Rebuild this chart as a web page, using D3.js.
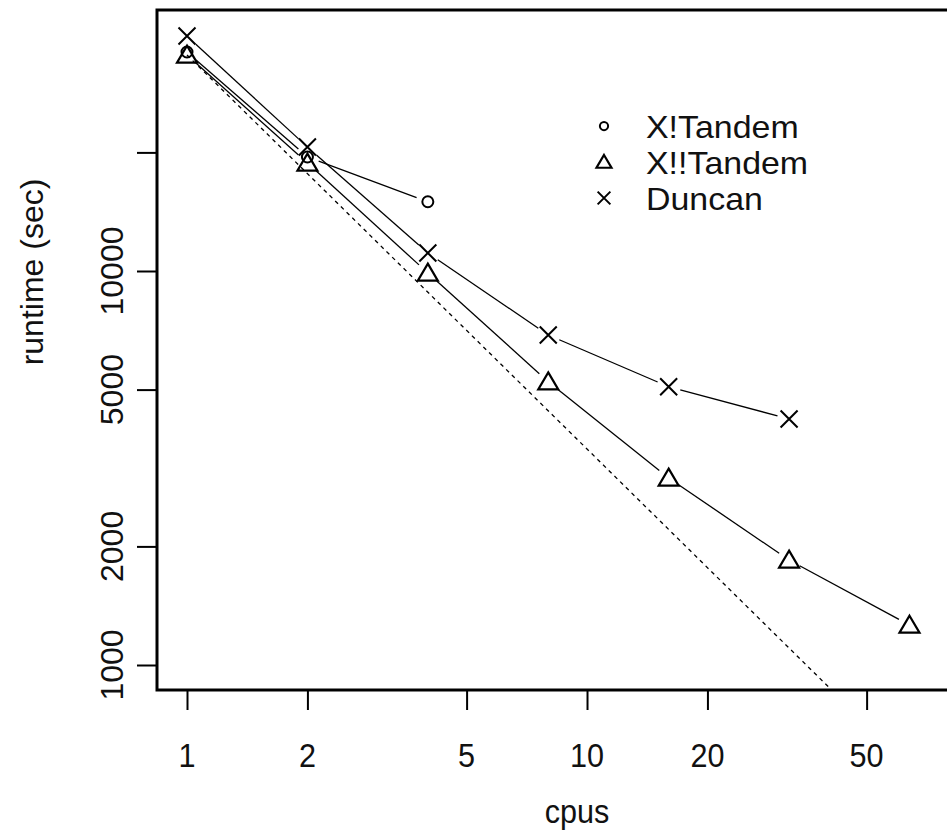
<!DOCTYPE html>
<html>
<head>
<meta charset="utf-8">
<script src="https://cdn.jsdelivr.net/npm/d3@7"></script>
<style>
  body { margin: 0; background: #fff; }
  text { font-family: "Liberation Sans", Arial, sans-serif; fill: #111; }
</style>
</head>
<body>
<script>
// runtimes (seconds)
var cpus = [1, 2, 4, 8, 16, 32, 64];
var xtandemCpus = [1, 2, 4];
var xtandem = [35960, 19470, 14990];
var xxtandem = [35340, 18800, 9885, 5236, 2983, 1847, 1263];
var duncanCpus = [1, 2, 4, 8, 16, 32];
var duncan = [39480, 20640, 11110, 6880, 5085, 4211];
// ideal scaling line (dotted), end points
var idealCpus = [1, 64];
var ideal = [35340, 552];

var xTicks = [1, 2, 5, 10, 20, 50];
var yTicks = [1000, 2000, 5000, 10000, 20000];
var yLabels = ["1000", "2000", "5000", "10000", ""];
var legendNames = ["X!Tandem", "X!!Tandem", "Duncan"];

var W = 947, H = 832;
var box = {left: 157, top: 10, right: 1000, bottom: 690};
var fs = 32;

var svg = d3.select("body").append("svg").attr("width", W).attr("height", H);

var x = d3.scaleLog().domain([1, 64]).range([187, 909.5]);
var y = d3.scaleLog().domain([1000, 10000]).range([665, 271]);

svg.append("clipPath").attr("id", "plotclip")
  .append("rect")
  .attr("x", box.left).attr("y", box.top)
  .attr("width", box.right - box.left).attr("height", box.bottom - box.top);

// ticks
svg.append("g").attr("transform", "translate(0," + box.bottom + ")")
  .call(d3.axisBottom(x).tickValues(xTicks).tickSize(20).tickFormat(""));
svg.append("g").attr("transform", "translate(" + box.left + ",0)")
  .call(d3.axisLeft(y).tickValues(yTicks).tickSize(20).tickFormat(""));
svg.selectAll(".domain").remove();
svg.selectAll(".tick line").attr("stroke", "#000").attr("stroke-width", 2);

function stext(px, py, str, rot, size, sx) {
  return svg.append("text")
    .attr("transform", "translate(" + px + "," + py + ") scale(" + (sx || 1) + ",1)" + (rot ? " rotate(-90)" : ""))
    .attr("text-anchor", "middle")
    .attr("dy", "0.36em")
    .style("font-size", (size || fs) + "px")
    .text(str);
}

xTicks.forEach(function(t) { stext(x(t), 755, String(t), false, 34, 0.9); });
yTicks.forEach(function(t, i) { if (yLabels[i]) stext(111, y(t), yLabels[i], true); });

stext(577, 811, "cpus", false, 34, 0.9);
stext(31, 272, "runtime (sec)", true);

// frame
svg.append("rect")
  .attr("x", box.left).attr("y", box.top)
  .attr("width", box.right - box.left).attr("height", box.bottom - box.top)
  .attr("fill", "none").attr("stroke", "#000").attr("stroke-width", 3);

var plot = svg.append("g").attr("clip-path", "url(#plotclip)");

// lines with gaps round the points, like R type = "b"
function gapLine(xs, ys, gap) {
  for (var i = 0; i < xs.length - 1; i++) {
    var x0 = x(xs[i]), y0 = y(ys[i]), x1 = x(xs[i + 1]), y1 = y(ys[i + 1]);
    var dx = x1 - x0, dy = y1 - y0, len = Math.sqrt(dx * dx + dy * dy);
    var ux = dx / len, uy = dy / len;
    plot.append("line")
      .attr("x1", x0 + ux * gap).attr("y1", y0 + uy * gap)
      .attr("x2", x1 - ux * gap).attr("y2", y1 - uy * gap)
      .attr("stroke", "#000").attr("stroke-width", 1.3);
  }
}

plot.append("path")
  .datum(idealCpus.map(function(c, i) { return [c, ideal[i]]; }))
  .attr("d", d3.line().x(function(d) { return x(d[0]); }).y(function(d) { return y(d[1]); }))
  .attr("fill", "none").attr("stroke", "#000").attr("stroke-width", 1.3)
  .attr("stroke-dasharray", "4,4");

gapLine(xtandemCpus, xtandem, 12);
gapLine(cpus, xxtandem, 12);
gapLine(duncanCpus, duncan, 12);

function circleMark(g, cx, cy, s) {
  g.append("circle").attr("cx", cx).attr("cy", cy).attr("r", 5.5 * s)
    .attr("fill", "none").attr("stroke", "#000").attr("stroke-width", 2);
}
function triMark(g, cx, cy, s) {
  var w = 10 * s, h = 17 * s;
  g.append("path")
    .attr("d", "M" + cx + "," + (cy - h * 0.55) + "L" + (cx + w) + "," + (cy + h * 0.45) + "L" + (cx - w) + "," + (cy + h * 0.45) + "Z")
    .attr("fill", "none").attr("stroke", "#000").attr("stroke-width", 2.2);
}
function crossMark(g, cx, cy, s) {
  var r = 8.5 * s;
  g.append("path")
    .attr("d", "M" + (cx - r) + "," + (cy - r) + "L" + (cx + r) + "," + (cy + r) + "M" + (cx - r) + "," + (cy + r) + "L" + (cx + r) + "," + (cy - r))
    .attr("fill", "none").attr("stroke", "#000").attr("stroke-width", 2);
}

xtandemCpus.forEach(function(c, i) { circleMark(plot, x(c), y(xtandem[i]), 1); });
cpus.forEach(function(c, i) { triMark(plot, x(c), y(xxtandem[i]), 1); });
duncanCpus.forEach(function(c, i) { crossMark(plot, x(c), y(duncan[i]), 1); });

// legend
var marks = [circleMark, triMark, crossMark];
legendNames.forEach(function(name, i) {
  var ly = 126 + i * 36;
  marks[i](svg, 604, ly, 0.75);
  svg.append("text")
    .attr("transform", "translate(646," + ly + ") scale(1.06,1)")
    .attr("dy", "0.36em")
    .style("font-size", fs + "px")
    .text(name);
});
</script>
</body>
</html>
